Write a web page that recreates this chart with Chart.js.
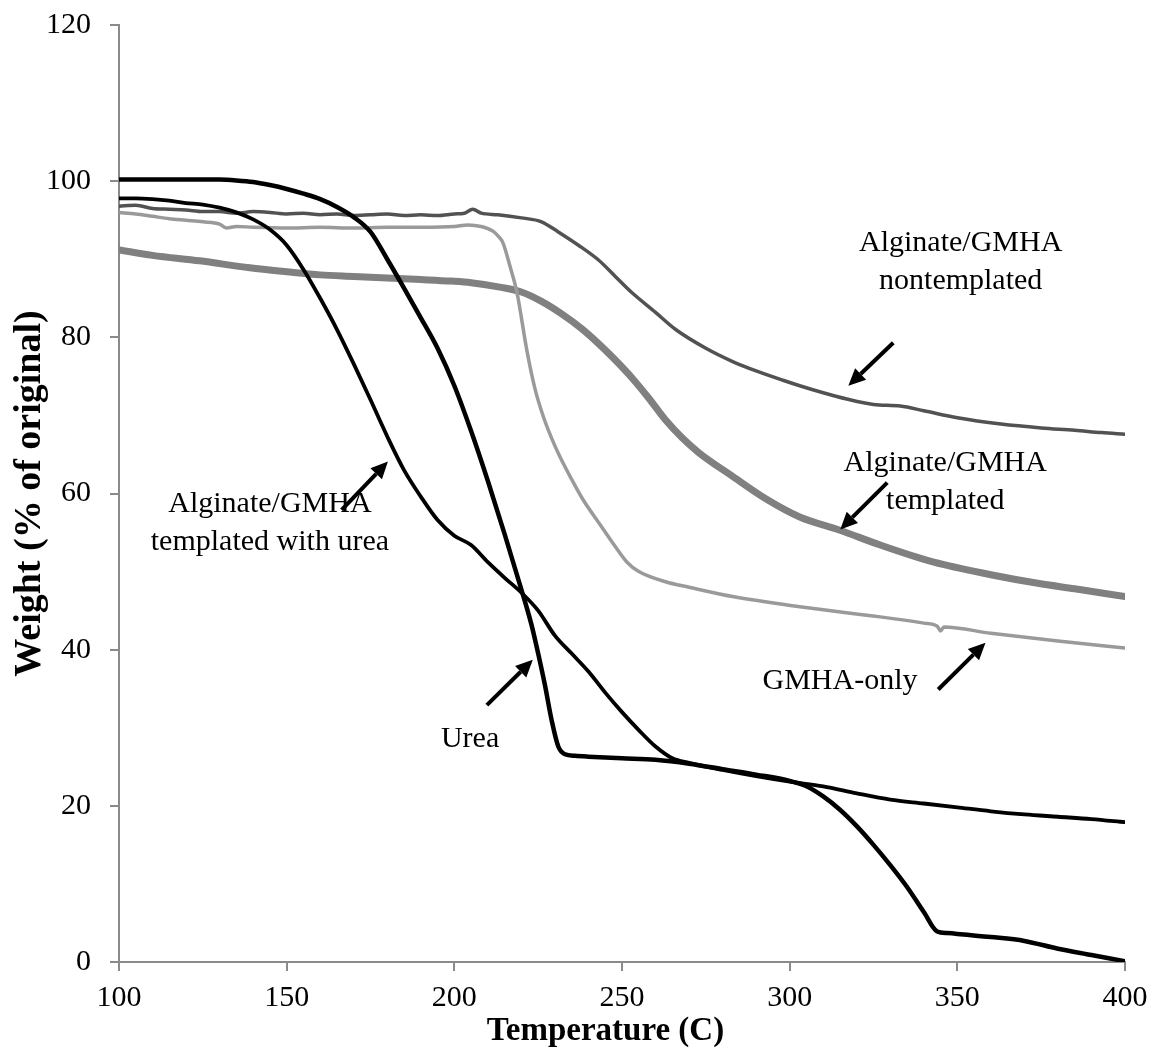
<!DOCTYPE html>
<html>
<head>
<meta charset="utf-8">
<script src="https://cdn.jsdelivr.net/npm/chart.js@4.4.0/dist/chart.umd.min.js"></script>
<style>
  body { margin: 0; background: #fff; }
  #wrap { width: 1153px; height: 1052px; }
</style>
</head>
<body>
<div id="wrap"><canvas id="tga" width="1153" height="1052"></canvas></div>
<script>
// tick labels
const xTicks = [100, 150, 200, 250, 300, 350, 400];
const yTicks = [0, 20, 40, 60, 80, 100, 120];

// Urea
const ureaT = [100, 110, 120, 130, 135, 140, 145, 150, 155, 160, 165, 170, 175, 180, 185, 190, 195, 200, 205, 210, 215, 220, 223, 225, 227, 229, 231, 233, 236, 240, 250, 260, 270, 280, 290, 300, 305, 310, 315, 320, 325, 330, 335, 340, 344, 347, 350, 360, 370, 380, 390, 400];
const ureaW = [100.2, 100.2, 100.2, 100.2, 100.1, 99.9, 99.5, 99.0, 98.4, 97.7, 96.7, 95.4, 93.5, 90.0, 86.3, 82.5, 78.6, 73.8, 68.0, 61.6, 54.8, 47.7, 43.2, 39.5, 35.5, 31.0, 27.6, 26.6, 26.4, 26.3, 26.1, 25.9, 25.4, 24.7, 24.0, 23.2, 22.5, 21.2, 19.5, 17.4, 15.0, 12.4, 9.6, 6.4, 3.9, 3.7, 3.6, 3.2, 2.7, 1.7, 0.9, 0.1];

// Alginate/GMHA templated with urea
const withUreaT = [100, 105, 110, 115, 120, 125, 130, 135, 140, 145, 150, 155, 160, 165, 170, 175, 180, 185, 190, 195, 200, 205, 210, 215, 220, 225, 230, 235, 240, 245, 250, 255, 260, 265, 270, 280, 290, 300, 310, 320, 330, 340, 350, 360, 370, 380, 390, 400];
const withUreaW = [97.8, 97.8, 97.7, 97.5, 97.2, 97.0, 96.6, 96.0, 95.1, 93.8, 91.8, 88.7, 85.0, 81.0, 76.6, 72.0, 67.3, 63.0, 59.6, 56.6, 54.6, 53.4, 51.2, 49.2, 47.3, 45.0, 41.8, 39.5, 37.2, 34.5, 32.0, 29.7, 27.6, 26.1, 25.5, 24.6, 23.8, 23.1, 22.5, 21.6, 20.8, 20.3, 19.8, 19.3, 18.9, 18.6, 18.3, 17.9];

// GMHA-only
const gmhaT = [100, 105, 110, 115, 120, 125, 130, 132, 135, 140, 150, 160, 170, 180, 190, 200, 204, 208, 211.5, 213, 214.5, 216.6, 218.7, 221.6, 224, 226.5, 229, 231.5, 235, 238.4, 243.5, 248, 251.5, 255, 263, 270, 283, 303, 327, 340, 344, 345, 346, 360, 380, 400];
const gmhaW = [96.0, 95.8, 95.5, 95.2, 95.0, 94.8, 94.5, 94.0, 94.2, 94.1, 94.0, 94.1, 94.0, 94.1, 94.1, 94.2, 94.4, 94.2, 93.6, 93.0, 92.1, 89.1, 85.7, 78.4, 73.5, 69.9, 67.1, 64.7, 61.8, 59.2, 56.0, 53.2, 51.2, 50.0, 48.7, 48.0, 46.8, 45.5, 44.2, 43.4, 43.0, 42.4, 42.9, 42.1, 41.1, 40.2];

// Alginate/GMHA nontemplated
const nonTempT = [100, 105, 110, 115, 120, 125, 130, 135, 140, 145, 150, 155, 160, 165, 170, 175, 180, 185, 190, 195, 200, 203, 205.5, 208, 213, 220, 226, 231, 237, 243, 248, 253, 260, 266, 275, 283, 290, 298, 303, 310, 317, 325, 333, 340, 350, 363, 375, 385, 393, 400];
const nonTempW = [96.8, 96.9, 96.5, 96.4, 96.3, 96.1, 96.1, 95.9, 96.1, 96.0, 95.8, 95.9, 95.7, 95.8, 95.6, 95.7, 95.8, 95.6, 95.7, 95.6, 95.8, 95.9, 96.4, 95.9, 95.7, 95.3, 94.8, 93.5, 91.8, 89.9, 87.8, 85.7, 83.2, 81.0, 78.6, 76.9, 75.7, 74.5, 73.8, 72.9, 72.1, 71.4, 71.2, 70.6, 69.7, 68.9, 68.4, 68.1, 67.8, 67.6];

// Alginate/GMHA templated
const tempT = [100, 110, 124, 139, 150, 160, 170, 180, 190, 199, 205, 214, 220, 226, 232, 238, 243, 248, 253, 258, 263, 268, 273, 283, 293, 303, 315, 327, 343, 360, 374, 385, 400];
const tempW = [91.2, 90.5, 89.8, 88.9, 88.4, 88.0, 87.8, 87.6, 87.4, 87.2, 87.0, 86.4, 85.8, 84.6, 83.0, 81.1, 79.2, 77.1, 74.8, 72.2, 69.4, 67.1, 65.2, 62.2, 59.3, 57.0, 55.3, 53.4, 51.2, 49.6, 48.5, 47.8, 46.8];

// callout labels, placed in data units (text centre of first line, arrow tail -> head)
const notes = [
  { lines: ['Alginate/GMHA', 'nontemplated'], at: [351, 92.1], tail: [330.9, 79.3], head: [317.5, 73.8] },
  { lines: ['Alginate/GMHA', 'templated'], at: [346.4, 63.9], tail: [329.1, 61.4], head: [315.1, 55.4] },
  { lines: ['GMHA-only'], at: [315.0, 36.0], tail: [344.3, 34.9], head: [358.4, 40.9] },
  { lines: ['Urea'], at: [204.7, 28.5], tail: [209.7, 32.9], head: [223.4, 38.7] },
  { lines: ['Alginate/GMHA', 'templated with urea'], at: [145.0, 58.6], tail: [166.4, 57.9], head: [180.2, 64.1] }
];

const pts = (t, w) => t.map((v, i) => ({ x: v, y: w[i] }));
const serif = 'Liberation Serif, Times New Roman, serif';

function line(label, t, w, color, width) {
  return {
    label: label,
    data: pts(t, w),
    borderColor: color,
    borderWidth: width,
    pointRadius: 0,
    cubicInterpolationMode: 'monotone',
    borderJoinStyle: 'round',
    borderCapStyle: 'round',
    fill: false
  };
}

function drawArrow(ctx, x1, y1, x2, y2) {
  const a = Math.atan2(y2 - y1, x2 - x1);
  const hl = 17, hw = 8;
  const bx = x2 - hl * Math.cos(a), by = y2 - hl * Math.sin(a);
  ctx.beginPath();
  ctx.moveTo(x1, y1);
  ctx.lineTo(bx, by);
  ctx.stroke();
  ctx.beginPath();
  ctx.moveTo(x2, y2);
  ctx.lineTo(bx + hw * Math.sin(a), by - hw * Math.cos(a));
  ctx.lineTo(bx - hw * Math.sin(a), by + hw * Math.cos(a));
  ctx.closePath();
  ctx.fill();
}

const callouts = {
  id: 'callouts',
  afterDatasetsDraw(chart) {
    const ctx = chart.ctx;
    const xs = chart.scales.x, ys = chart.scales.y;
    ctx.save();
    ctx.fillStyle = '#000';
    ctx.strokeStyle = '#000';
    ctx.lineWidth = 4;
    ctx.font = '30px ' + serif;
    ctx.textAlign = 'center';
    ctx.textBaseline = 'middle';
    notes.forEach(n => {
      const cx = xs.getPixelForValue(n.at[0]);
      const cy = ys.getPixelForValue(n.at[1]);
      n.lines.forEach((s, i) => ctx.fillText(s, cx, cy + i * 38));
      drawArrow(ctx,
        xs.getPixelForValue(n.tail[0]), ys.getPixelForValue(n.tail[1]),
        xs.getPixelForValue(n.head[0]), ys.getPixelForValue(n.head[1]));
    });
    ctx.restore();
  }
};

new Chart(document.getElementById('tga'), {
  type: 'line',
  data: {
    datasets: [
      line('Urea', ureaT, ureaW, '#000000', 4.5),
      line('Alginate/GMHA templated with urea', withUreaT, withUreaW, '#000000', 3.8),
      line('GMHA-only', gmhaT, gmhaW, '#9a9a9a', 3.5),
      line('Alginate/GMHA nontemplated', nonTempT, nonTempW, '#525252', 3.5),
      line('Alginate/GMHA templated', tempT, tempW, '#808080', 7)
    ]
  },
  options: {
    responsive: false,
    animation: false,
    devicePixelRatio: 1,
    layout: { padding: { top: 25, right: 28, bottom: 0, left: 0 } },
    plugins: { legend: { display: false }, tooltip: { enabled: false } },
    scales: {
      x: {
        type: 'linear',
        min: 100,
        max: 400,
        afterBuildTicks: s => { s.ticks = xTicks.map(v => ({ value: v })); },
        afterFit: s => { s.height = 90; s.paddingLeft = 0; s.paddingRight = 0; },
        grid: { drawOnChartArea: false, drawTicks: true, tickLength: 9, color: '#8a8a8a', lineWidth: 2 },
        border: { color: '#8a8a8a', width: 2 },
        ticks: { color: '#000', padding: 9, font: { family: serif, size: 30 } },
        title: {
          display: true, text: 'Temperature (C)    ', color: '#000',
          font: { family: serif, size: 33, weight: 'bold' }, padding: { top: 0, bottom: 1 }
        }
      },
      y: {
        type: 'linear',
        min: 0,
        max: 120,
        afterBuildTicks: s => { s.ticks = yTicks.map(v => ({ value: v })); },
        afterFit: s => { s.width = 119; s.paddingTop = 0; s.paddingBottom = 0; },
        grid: { drawOnChartArea: false, drawTicks: true, tickLength: 9, color: '#8a8a8a', lineWidth: 2 },
        border: { color: '#8a8a8a', width: 2 },
        ticks: { color: '#000', padding: 19, font: { family: serif, size: 30 } },
        title: {
          display: true, text: 'Weight (% of original)', color: '#000',
          font: { family: serif, size: 38, weight: 'bold' }, padding: { top: 7, bottom: 0 }
        }
      }
    }
  },
  plugins: [callouts]
});
</script>
</body>
</html>
